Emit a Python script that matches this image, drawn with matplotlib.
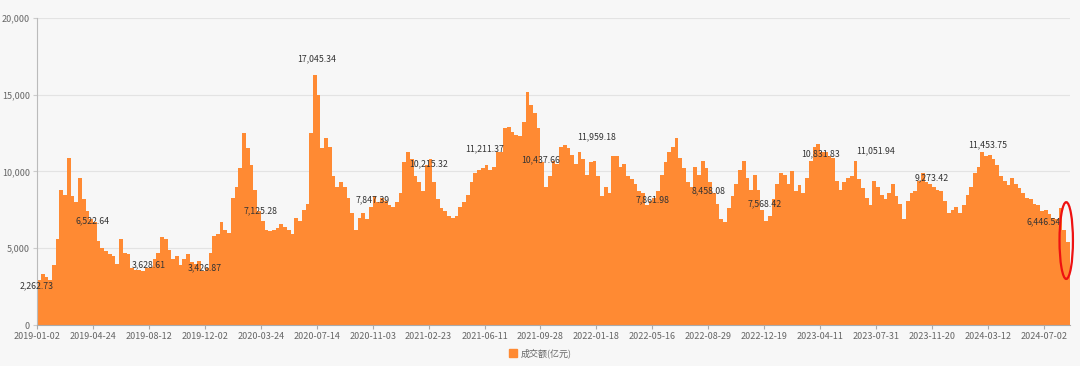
import matplotlib
matplotlib.use('Agg')
import matplotlib.pyplot as plt
from matplotlib.patches import Patch, Ellipse
import numpy as np

plt.rcParams['font.family'] = ['Noto Sans CJK SC', 'DejaVu Sans']

# 横轴刻度日期（每隔约74个交易日一个）
tick_dates = ['2019-01-02', '2019-04-24', '2019-08-12', '2019-12-02', '2020-03-24',
              '2020-07-14', '2020-11-03', '2021-02-23', '2021-06-11', '2021-09-28',
              '2022-01-18', '2022-05-16', '2022-08-29', '2022-12-19', '2023-04-11',
              '2023-07-31', '2023-11-20', '2024-03-12', '2024-07-02']

# 刻度日当天成交额（图上的数字标注）
tick_values = [2262.73, 6522.64, 3628.61, 3426.87, 7125.28,
               17045.34, 7847.39, 10215.32, 11211.37, 10437.66,
               11959.18, 7861.98, 8458.08, 7568.42, 10831.83,
               11051.94, 9273.42, 11453.75, 6446.54]

# 成交额(亿元)，按周读取，每个刻度区间15个
volume = [
    2900, 3300, 3100, 2900, 3900, 5600, 8800, 8500, 10900, 8400, 8000, 9600, 8200, 7400, 6900,
    6700, 5500, 5000, 4800, 4600, 4500, 4000, 5600, 4700, 4600, 3700, 3600, 3600, 3500, 3700,
    3800, 4300, 4700, 5700, 5600, 4900, 4300, 4500, 3900, 4300, 4600, 4100, 4000, 4200, 3500,
    3700, 4700, 5800, 5900, 6700, 6200, 6000, 8300, 9000, 10200, 12500, 11500, 10400, 8800, 7400,
    6800, 6200, 6100, 6200, 6300, 6600, 6400, 6200, 5900, 7000, 6800, 7500, 7900, 12500, 16300,
    15000, 11500, 12200, 11600, 9700, 9000, 9300, 9000, 8300, 7300, 6200, 7000, 7300, 6900, 7700,
    8400, 8000, 8300, 8100, 7800, 7700, 8000, 8600, 10600, 11300, 10800, 9700, 9300, 8700, 10400,
    10800, 9300, 8200, 7600, 7400, 7100, 7000, 7100, 7700, 8000, 8500, 9300, 9900, 10100, 10200,
    10400, 10100, 10300, 11300, 11300, 12800, 12900, 12600, 12400, 12300, 13200, 15200, 14300, 13800, 12800,
    10600, 9000, 9700, 10700, 10500, 11600, 11700, 11500, 11100, 10500, 11300, 10800, 9800, 10600, 10700,
    9700, 8400, 9000, 8600, 11000, 11000, 10300, 10500, 9700, 9500, 9200, 8700, 8600, 7800, 8100,
    8300, 8700, 9800, 10600, 11300, 11600, 12200, 10900, 10200, 9300, 9000, 10300, 9800, 10700, 10200,
    9300, 8600, 7900, 6900, 6700, 7600, 8400, 9200, 10100, 10700, 9600, 8800, 9800, 8800, 7500,
    6800, 7100, 8200, 9200, 9900, 9800, 9200, 10000, 8700, 9100, 8600, 9600, 10700, 11600, 11800,
    11300, 11300, 11000, 10900, 9400, 8800, 9300, 9600, 9700, 10700, 9500, 8900, 8300, 7800, 9400,
    9000, 8500, 8200, 8600, 9200, 8400, 7900, 6900, 8100, 8600, 8700, 9400, 9900, 9300, 9200,
    9000, 8800, 8700, 8100, 7300, 7500, 7700, 7300, 7800, 8500, 9000, 9900, 10300, 11300, 11000,
    11100, 10800, 10400, 9700, 9400, 9100, 9600, 9200, 8900, 8600, 8300, 8200, 7900, 7800, 7400,
    7500, 7200, 7000, 6900, 7600, 6200, 5400,
]

step = 15  # 每个刻度区间的数据点数
orange = '#ff8a33'

fig = plt.figure(figsize=(10.8, 3.66), dpi=100, facecolor='#f7f7f7')
ax = fig.add_axes([0.0343, 0.112, 0.9564, 0.839])
ax.set_facecolor('#f7f7f7')

x = np.arange(len(volume))
ax.bar(x, volume, width=1.0, align='edge', color=orange, linewidth=0, zorder=2)

# 刻度日数值标注
tick_pos = np.arange(len(tick_dates)) * step
for p, v in zip(tick_pos, tick_values):
    ax.text(p, v, f'{v:,.2f}', ha='center', va='bottom', fontsize=6.3, color='#333333', zorder=3)

# 红圈标出最近的下跌
ax.add_patch(Ellipse((len(volume) - 1.0, 5500), 3.6, 5000, fill=False,
                     edgecolor='#ee1111', linewidth=1.6, zorder=4, clip_on=False))

ax.set_xlim(0, len(volume))
ax.set_ylim(0, 20000)
ax.set_yticks([0, 5000, 10000, 15000, 20000])
ax.set_yticklabels(['0', '5,000', '10,000', '15,000', '20,000'])
ax.set_xticks(tick_pos)
ax.set_xticklabels(tick_dates)
ax.tick_params(axis='x', labelsize=6.5, colors='#666666', length=3, color='#aaaaaa', pad=2)
ax.tick_params(axis='y', labelsize=6.5, colors='#666666', length=3, color='#cccccc', pad=2)
ax.grid(axis='y', color='#e3e3e3', linewidth=0.8, zorder=0)
ax.set_axisbelow(True)
for s in ['top', 'right']:
    ax.spines[s].set_visible(False)
ax.spines['left'].set_color('#bbbbbb')
ax.spines['bottom'].set_color('#aaaaaa')

fig.legend(handles=[Patch(color=orange, label='成交额(亿元)')], loc='lower center',
           bbox_to_anchor=(0.5, 0.0), frameon=False, fontsize=6.5, labelcolor='#666666',
           handlelength=0.9, handleheight=0.9, handletextpad=0.4)

fig.savefig('out.png', dpi=100, facecolor=fig.get_facecolor())
